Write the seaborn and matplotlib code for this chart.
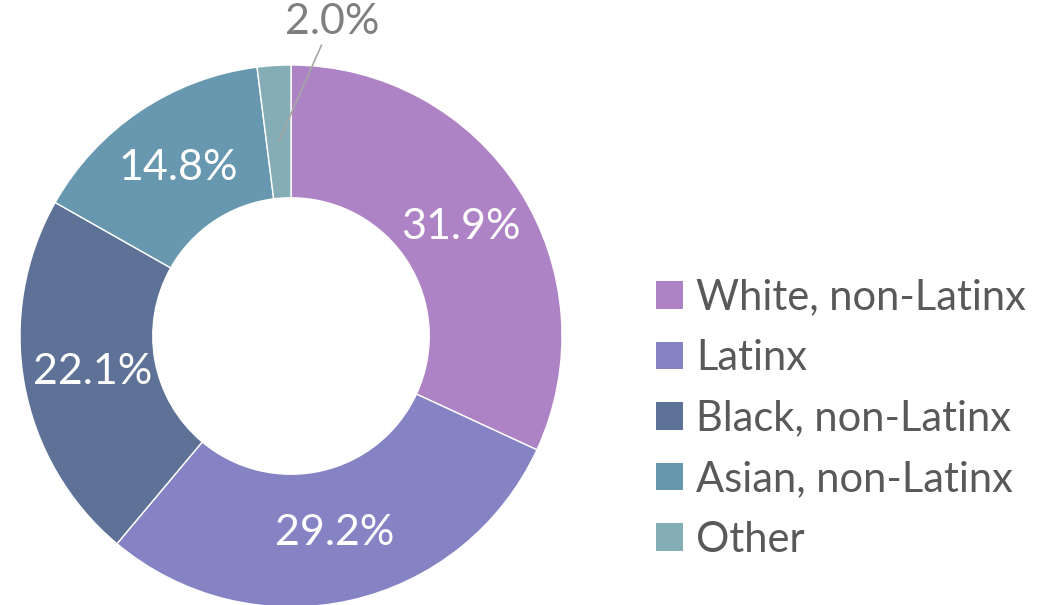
import matplotlib
matplotlib.use('Agg')
import matplotlib.pyplot as plt
import seaborn as sns
import numpy as np
from matplotlib.patches import Patch

# Veri
categories = ['White, non-Latinx', 'Latinx', 'Black, non-Latinx', 'Asian, non-Latinx', 'Other']
shares = [31.9, 29.2, 22.1, 14.8, 2.0]
colors = ['#AE83C5', '#8683C5', '#5E7298', '#6898AF', '#85ADB5']

sns.set_theme(style='white')
plt.rcParams['font.family'] = ['Lato', 'DejaVu Sans']

fig = plt.figure(figsize=(10.5, 6.05), dpi=100)
# pasta merkezi ~ (291, 336) px, yarıçap ~271 px
ax = fig.add_axes([20 / 1050, (605 - 607) / 605, 542 / 1050, 542 / 605])

wedges, _ = ax.pie(shares, colors=colors, startangle=90, counterclock=False,
                   radius=1.0, wedgeprops=dict(width=0.49, edgecolor='white', linewidth=1))
ax.set_xlim(-1, 1)
ax.set_ylim(-1, 1)
ax.set_aspect('equal')
ax.axis('off')

# yüzde etiketleri
for w, v in zip(wedges, shares):
    theta = np.deg2rad((w.theta1 + w.theta2) / 2)
    if v < 5:
        ax.annotate(f'{v:.1f}%', xy=(0.72 * np.cos(theta), 0.72 * np.sin(theta)),
                    xytext=(0.151, 1.16), ha='center', va='center', fontsize=31,
                    color='#7F7F7F', annotation_clip=False,
                    arrowprops=dict(arrowstyle='-', color='#A6A6A6', lw=1.2,
                                    shrinkA=1, shrinkB=0))
    else:
        ax.text(0.745 * np.cos(theta), 0.745 * np.sin(theta), f'{v:.1f}%',
                ha='center', va='center', fontsize=31, color='white')

handles = [Patch(facecolor=c, edgecolor='none') for c in colors]
leg = fig.legend(handles, categories, loc='upper left', bbox_to_anchor=(639 / 1050, 1 - 262 / 605),
                 frameon=False, fontsize=30, handlelength=0.65, handleheight=0.65,
                 handletextpad=0.33, labelspacing=0.54, borderaxespad=0)
for t in leg.get_texts():
    t.set_color('#595959')

fig.savefig('out.png', dpi=100)
